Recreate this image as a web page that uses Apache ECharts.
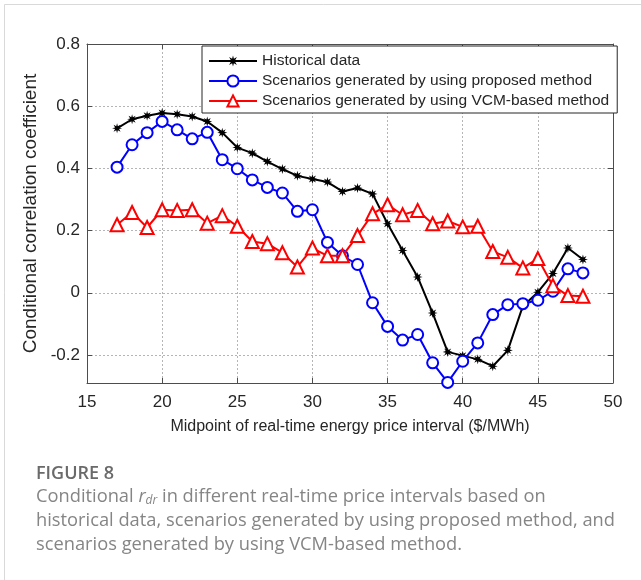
<!DOCTYPE html>
<html>
<head>
<meta charset="utf-8">
<script src="https://cdn.jsdelivr.net/npm/echarts@6/dist/echarts.min.js"></script>
<style>
  html, body { margin: 0; padding: 0; background: #fff; }
  #chart { width: 641px; height: 580px; }
</style>
</head>
<body>
<div id="chart"></div>
<script>
// x: midpoint of real-time price interval ($/MWh)
const priceMidpoints = [17, 18, 19, 20, 21, 22, 23, 24, 25, 26, 27, 28, 29, 30, 31, 32,
  33, 34, 35, 36, 37, 38, 39, 40, 41, 42, 43, 44, 45, 46, 47, 48];

const historical = [0.529, 0.558, 0.569, 0.578, 0.574, 0.567, 0.551, 0.515, 0.467, 0.449,
  0.422, 0.398, 0.376, 0.366, 0.356, 0.326, 0.337, 0.318, 0.222, 0.136, 0.051, -0.065,
  -0.19, -0.202, -0.214, -0.236, -0.185, -0.043, 0.002, 0.062, 0.144, 0.107];

const proposed = [0.404, 0.476, 0.515, 0.551, 0.524, 0.495, 0.516, 0.428, 0.399, 0.363,
  0.339, 0.321, 0.262, 0.267, 0.162, 0.119, 0.091, -0.032, -0.108, -0.152, -0.134, -0.225,
  -0.288, -0.220, -0.161, -0.070, -0.038, -0.035, -0.024, 0.005, 0.077, 0.064];

const vcmBased = [0.219, 0.258, 0.210, 0.267, 0.265, 0.267, 0.224, 0.248, 0.214, 0.165,
  0.158, 0.129, 0.083, 0.144, 0.119, 0.119, 0.184, 0.254, 0.283, 0.251, 0.265, 0.222,
  0.231, 0.212, 0.214, 0.133, 0.114, 0.080, 0.110, 0.023, -0.009, -0.011];

const yTicks = [-0.2, 0, 0.2, 0.4, 0.6, 0.8];
const seriesNames = [
  'Historical data',
  'Scenarios generated by using proposed method',
  'Scenarios generated by using VCM-based method'
];

const axisFont = 'Liberation Sans, Arial, sans-serif';
const captionFont = '"Open Sans", sans-serif';
const axisColor = '#4d4d4d';
const textColor = '#262626';
const captionColor = '#858585';

// 8-point filled burst, stands in for the matlab '*' marker
const asterisk = 'path://M50,0 L58,30 L85,15 L70,42 L100,50 L70,58 L85,85 L58,70 L50,100 L42,70 L15,85 L30,58 L0,50 L30,42 L15,15 L42,30 Z';

function pairs(ys) {
  return priceMidpoints.map((x, i) => [x, ys[i]]);
}

function fmtY(v) {
  return Math.abs(v) < 1e-9 ? '0' : v.toFixed(1);
}

const chart = echarts.init(document.getElementById('chart'), null, { renderer: 'canvas' });

const option = {
  backgroundColor: '#fff',
  animation: false,
  grid: { left: 87, top: 44, right: 28, bottom: 197 },
  legend: {
    orient: 'vertical',
    left: 202,
    top: 46,
    itemWidth: 48,
    itemHeight: 14,
    itemGap: 4,
    padding: [7, 8, 4, 6],
    backgroundColor: '#fff',
    borderColor: '#262626',
    borderWidth: 1,
    borderRadius: 0,
    textStyle: { fontFamily: axisFont, fontSize: 15.5, color: textColor },
    data: seriesNames
  },
  xAxis: [{
    type: 'value',
    min: 15,
    max: 50,
    interval: 5,
    name: 'Midpoint of real-time energy price interval ($/MWh)',
    nameLocation: 'middle',
    nameGap: 36,
    nameTextStyle: { fontFamily: axisFont, fontSize: 16, color: textColor },
    axisLine: { show: true, onZero: false, lineStyle: { color: axisColor, width: 1 } },
    axisTick: { show: true, inside: true, length: 5, lineStyle: { color: axisColor } },
    axisLabel: { fontFamily: axisFont, fontSize: 17, color: textColor, margin: 11 },
    splitLine: { show: true, lineStyle: { color: '#b5b5b5', type: [2, 2], width: 1 } }
  }, {
    type: 'value',
    position: 'top',
    min: 15,
    max: 50,
    interval: 5,
    axisLine: { show: true, onZero: false, lineStyle: { color: axisColor, width: 1 } },
    axisTick: { show: true, inside: true, length: 5, lineStyle: { color: axisColor } },
    axisLabel: { show: false },
    splitLine: { show: false }
  }],
  yAxis: [{
    type: 'value',
    min: -0.29,
    max: 0.8,
    name: 'Conditional correlation coefficient',
    nameLocation: 'middle',
    nameGap: 45,
    nameRotate: 90,
    nameTextStyle: { fontFamily: axisFont, fontSize: 19, color: textColor },
    axisLine: { show: true, onZero: false, lineStyle: { color: axisColor, width: 1 } },
    axisTick: { show: true, inside: true, length: 5, customValues: yTicks, lineStyle: { color: axisColor } },
    axisLabel: { fontFamily: axisFont, fontSize: 17, color: textColor, margin: 7, customValues: yTicks, formatter: fmtY },
    splitLine: { show: true, lineStyle: { color: '#b5b5b5', type: [2, 2], width: 1 } }
  }, {
    type: 'value',
    position: 'right',
    min: -0.29,
    max: 0.8,
    axisLine: { show: true, onZero: false, lineStyle: { color: axisColor, width: 1 } },
    axisTick: { show: true, inside: true, length: 5, customValues: yTicks, lineStyle: { color: axisColor } },
    axisLabel: { show: false },
    splitLine: { show: false }
  }],
  series: [{
    name: seriesNames[0],
    type: 'line',
    data: pairs(historical),
    symbol: asterisk,
    symbolSize: 10,
    z: 3,
    lineStyle: { color: '#000', width: 2 },
    itemStyle: { color: '#000' }
  }, {
    name: seriesNames[1],
    type: 'line',
    data: pairs(proposed),
    symbol: 'emptyCircle',
    symbolSize: 11,
    z: 4,
    lineStyle: { color: '#0000ff', width: 2 },
    itemStyle: { color: '#0000ff', borderWidth: 2 }
  }, {
    name: seriesNames[2],
    type: 'line',
    data: pairs(vcmBased),
    symbol: 'emptyTriangle',
    symbolSize: 13,
    z: 5,
    lineStyle: { color: '#ff0000', width: 2 },
    itemStyle: { color: '#ff0000', borderWidth: 2 }
  }],
  graphic: [{
    type: 'rect',
    silent: true,
    shape: { x: 4.5, y: 4.5, width: 800, height: 800 },
    style: { fill: null, stroke: '#d9d9d9', lineWidth: 1 }
  }, {
    type: 'text',
    left: 36,
    top: 465,
    style: {
      text: 'FIGURE 8',
      font: '600 18px ' + captionFont,
      fill: '#6a6a6a'
    }
  }, {
    type: 'text',
    left: 36,
    top: 488,
    style: {
      text: 'Conditional {r|r}{sub|dr} in different real-time price intervals based on',
      font: '18.3px ' + captionFont,
      fill: captionColor,
      rich: {
        r: { fontFamily: 'Open Sans', fontSize: 18.3, fontStyle: 'italic', fill: captionColor },
        sub: { fontFamily: 'Open Sans', fontSize: 12, fontStyle: 'italic', fill: captionColor, verticalAlign: 'bottom', padding: [7, 0, 0, 0] }
      }
    }
  }, {
    type: 'text',
    left: 36,
    top: 512,
    style: {
      text: 'historical data, scenarios generated by using proposed method, and',
      font: '18.3px ' + captionFont,
      fill: captionColor
    }
  }, {
    type: 'text',
    left: 36,
    top: 536,
    style: {
      text: 'scenarios generated by using VCM-based method.',
      font: '18.3px ' + captionFont,
      fill: captionColor
    }
  }]
};

chart.setOption(option);
</script>
</body>
</html>
